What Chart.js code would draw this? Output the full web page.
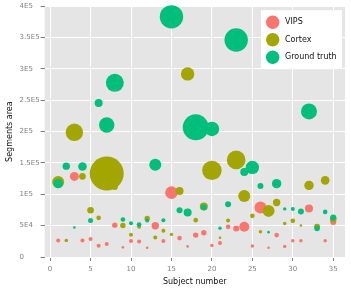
<!DOCTYPE html>
<html><head><meta charset="utf-8">
<script src="https://cdn.jsdelivr.net/npm/chart.js@4.4.0/dist/chart.umd.min.js"></script>
<style>html,body{margin:0;padding:0;background:#fff;}canvas{display:block;}</style>
</head><body>
<canvas id="c" width="351" height="292"></canvas>
<script>
const subjects = [1,2,3,4,5,6,7,8,9,10,11,12,13,14,15,16,17,18,19,20,21,22,23,24,25,26,27,28,29,30,31,32,33,34,35];
const vipsArea = [24300,24000,130600,24300,26400,15400,18200,49600,12700,23100,22600,12100,48500,23100,103600,28100,14300,33100,36900,16000,19800,46800,44100,46800,14900,78800,12100,33100,14300,23700,23700,77200,44000,23700,55000];
const vipsWeight = [2,1.5,4.5,2,2,2,2,2.7,1.3,2,2,1.3,3.7,2,6.3,2.3,1.3,2.7,2.7,1.7,2,2.3,3,5,1.7,6,1.3,2.3,1.7,1.7,1.7,4,2,1.7,3];
const cortexArea = [121200,24300,203800,130600,74400,61700,135500,113000,49100,33600,46800,60600,29200,40200,34200,106300,300800,57900,80500,140500,28600,57300,158000,98000,65000,38600,73300,87100,52400,56700,49100,115700,46800,124000,60000];
const cortexWeight = [6,1.7,8.7,3.3,3.3,2.3,17,3,2.7,2,2,2.7,2,2,1.7,4,6.7,2.3,4,9.7,1.3,2,9.3,6,2.3,1.7,6,3.7,1.7,2.3,1.3,4.7,3,4.3,3.3];
const truthArea = [118500,147600,45800,147100,57300,252400,216000,286000,59000,52900,50700,57300,150000,57900,395600,74400,70600,212000,79300,209400,44600,84300,357000,137700,145500,114600,38000,118500,76600,76600,72200,238500,44100,71600,62300];
const truthWeight = [4.7,3.7,1.3,4.3,2.5,4,7.7,9,2.3,2,2.3,2,6,2,11.7,3,4,13,3,7.3,1.7,3,11.7,4,6.7,3,1.3,4.7,1.7,2,3,8,2.7,2.3,3];
const seriesNames = ['VIPS','Cortex','Ground truth'];
const yTickLabels = ['0','5E4','1E5','1.5E5','2E5','2.5E5','3E5','3.5E5','4E5'];
const xTickLabels = ['0','5','10','15','20','25','30','35'];

function pts(ys, ws){ return subjects.map((s,i)=>({x:s, y:ys[i], r:ws[i]})); }

const FONT = 'DejaVu Sans';

const panelBg = {
  id:'panelBg',
  beforeDraw(chart){
    const {ctx, chartArea:a} = chart;
    ctx.save(); ctx.fillStyle='#E5E5E5';
    ctx.fillRect(a.left, a.top, a.right-a.left, a.bottom-a.top);
    ctx.restore();
  }
};
const boxLegend = {
  id:'boxLegend',
  afterDraw(chart){
    const {ctx, chartArea:a} = chart;
    const x0 = a.right-84, y0 = a.top+4, w = 81, h = 59;
    ctx.save();
    ctx.fillStyle='#fff'; ctx.fillRect(x0,y0,w,h);
    chart.data.datasets.forEach((ds,i)=>{
      const cy = y0 + 12 + i*17.5;
      ctx.beginPath(); ctx.fillStyle = ds.backgroundColor;
      ctx.arc(x0+11.7, cy, 6.7, 0, Math.PI*2); ctx.fill();
      ctx.fillStyle='#111'; ctx.font = '8px "'+FONT+'"';
      ctx.textBaseline='middle'; ctx.textAlign='left';
      ctx.fillText(ds.label, x0+24, cy);
    });
    ctx.restore();
  }
};

new Chart(document.getElementById('c'), {
  type:'bubble',
  data:{ datasets:[
    {label:seriesNames[0], data:pts(vipsArea,vipsWeight), backgroundColor:'#F8766D', borderWidth:0, order:3, clip:false},
    {label:seriesNames[1], data:pts(cortexArea,cortexWeight), backgroundColor:'#A3A500', borderWidth:0, order:2, clip:false},
    {label:seriesNames[2], data:pts(truthArea,truthWeight), backgroundColor:'#00BF7D', borderWidth:0, order:1, clip:false}
  ]},
  options:{
    responsive:false, animation:false, devicePixelRatio:1, events:[],
    layout:{autoPadding:false, padding:{left:0, top:5, right:6, bottom:0}},
    plugins:{
      legend:{display:false}, tooltip:{enabled:false},
      title:{display:true, text:'Segments area', position:'left', fullSize:false, color:'#111',
        font:{family:FONT, size:8, weight:'normal'}, padding:{top:5.6, bottom:4.4}}
    },
    scales:{
      x:{type:'linear', min:-0.68, max:36.45,
        border:{display:false},
        grid:{color:'#fff', lineWidth:1, tickColor:'#7f7f7f', tickLength:4},
        ticks:{stepSize:5, includeBounds:false, padding:4, color:'#7f7f7f', font:{family:FONT, size:7},
          maxRotation:0, callback:v=>xTickLabels[Math.round(v/5)]},
        title:{display:true, text:'Subject number', color:'#111', font:{family:FONT, size:8}, padding:{top:0,bottom:5}},
        afterFit(s){ s.height = 35; }
      },
      y:{type:'linear', min:-3306, max:413250,
        border:{display:false},
        grid:{color:'#fff', lineWidth:1, tickColor:'#7f7f7f', tickLength:4},
        ticks:{stepSize:50000, includeBounds:false, padding:2, crossAlign:'far', color:'#7f7f7f', font:{family:FONT, size:7},
          callback:v=>yTickLabels[Math.round(v/50000)]},
        afterFit(s){ s.width = 25; }
      }
    }
  },
  plugins:[panelBg, boxLegend]
});
</script>
</body></html>
